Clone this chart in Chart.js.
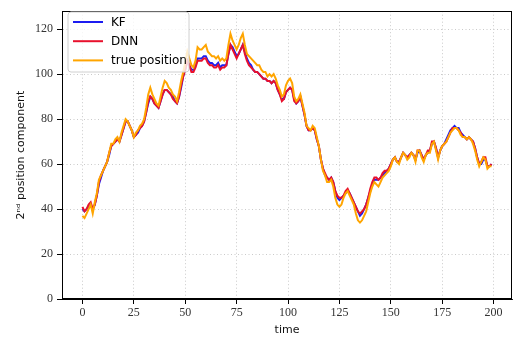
<!DOCTYPE html>
<html>
<head>
<meta charset="utf-8">
<script src="https://cdn.jsdelivr.net/npm/chart.js@4"></script>
<style>
html,body{margin:0;padding:0;background:#fff;}
#wrap{width:518px;height:342px;position:relative;}
</style>
</head>
<body>
<div id="wrap"><canvas id="c" width="518" height="342"></canvas></div>
<script>
const seriesNames = ["KF", "DNN", "true position"];
const xTicks = [0, 25, 50, 75, 100, 125, 150, 175, 200];
const yTicks = [0, 20, 40, 60, 80, 100, 120];

const truePos = [
37,36,38,40,42,38,43,47,53,55,
57,59,61,65,69,69,71,72,70,74,
77,80,79,77,75,72,74,75,77,78,
80,85,91,94,91,89,87,86,90,94,
97,96,94,93,91,90,88,92,97,101,
105,110,107,104,103,106,112,111,111,112,
113,110,109,108,108,107,108,106,107,106,
107,113,118,115,113,111,113,116,118,113,
109,108,107,106,105,104,104,102,101,101,
99,100,99,100,98,95,93,90,91,95,
97,98,96,90,88,89,91,87,83,77,
76,75,77,76,72,68,62,57,55,52,
52,53,50,45,42,41,42,45,47,48,
46,44,42,38,35,34,35,37,39,43,
47,50,52,51,50,52,54,55,56,57,
59,62,63,61,60,63,65,64,62,63,
65,64,61,66,66,63,61,64,65,65,
69,70,66,62,66,68,69,70,72,74,
75,76,76,75,73,72,72,71,72,71,
69,66,62,59,61,63,62,58,59,59];

const dnn = [
41,39,40,42,43,40,42,46,52,55,
57,59,61,65,68,69,70,71,70,73,
76,79,79,77,75,72,73,75,76,77,
79,83,88,90,89,87,86,85,88,91,
93,93,92,91,89,88,87,90,95,99,
102,106,104,101,101,103,106,106,106,107,
107,105,104,104,103,103,104,102,103,103,
104,109,113,111,109,107,109,111,113,109,
106,104,103,102,101,101,100,99,98,98,
97,97,96,97,96,93,91,88,89,92,
93,94,93,88,87,88,90,86,82,77,
75,75,76,75,71,68,62,58,56,54,
53,54,52,48,46,45,45,46,48,49,
47,45,43,41,39,38,39,40,42,45,
49,52,54,54,53,54,56,57,57,58,
60,62,63,61,61,63,65,64,63,64,
65,64,62,66,66,64,62,64,66,66,
70,70,67,63,66,68,69,70,72,74,
76,76,76,75,74,72,72,71,72,71,
70,67,63,60,61,63,63,59,59,60];

const kf = [
40,39,40,41,42,40,42,46,51,54,
57,59,61,64,68,69,70,71,70,73,
76,79,79,77,75,72,73,74,76,77,
79,83,87,90,89,87,86,85,88,91,
93,93,92,91,90,88,87,90,94,99,
102,106,104,102,102,104,107,107,107,108,
108,106,105,105,104,104,105,103,104,104,
104,109,113,112,110,108,109,111,113,110,
107,105,104,102,101,101,100,99,98,98,
97,97,96,97,96,93,91,89,89,92,
93,94,93,89,87,88,90,86,82,77,
75,75,76,75,71,68,62,58,55,54,
53,54,52,48,45,44,45,46,47,48,
47,45,43,41,39,37,38,40,42,45,
48,51,53,53,53,54,55,56,57,58,
60,62,63,61,61,63,65,64,63,64,
65,64,62,65,66,64,62,64,65,66,
69,70,67,63,66,68,69,71,73,75,
76,77,76,76,74,73,72,71,72,71,
70,67,63,60,60,62,62,59,59,60];

const colors = ["#1c1cf0", "#e8112d", "#ffa500"];
const allSeries = [kf, dnn, truePos];

const datasets = allSeries.map((arr, i) => ({
  label: seriesNames[i],
  data: arr.map((v, t) => ({x: t, y: v})),
  borderColor: colors[i],
  backgroundColor: colors[i],
  borderWidth: 2,
  pointRadius: 0,
  tension: 0,
  fill: false,
  order: 3 - i
}));

const boxPlugin = {
  id: 'boxAndLegend',
  afterDraw(chart) {
    const {ctx, chartArea: a} = chart;
    ctx.save();
    ctx.strokeStyle = '#000';
    ctx.lineWidth = 1;
    ctx.setLineDash([]);
    ctx.strokeRect(Math.round(a.left) + 0.5, Math.round(a.top) + 0.5,
                   Math.round(a.right - a.left) - 1, Math.round(a.bottom - a.top) - 1);
    // legend
    const lx = 68, ly = 12, lw = 121, lh = 60, r = 3;
    ctx.beginPath();
    ctx.moveTo(lx + r, ly);
    ctx.lineTo(lx + lw - r, ly); ctx.quadraticCurveTo(lx + lw, ly, lx + lw, ly + r);
    ctx.lineTo(lx + lw, ly + lh - r); ctx.quadraticCurveTo(lx + lw, ly + lh, lx + lw - r, ly + lh);
    ctx.lineTo(lx + r, ly + lh); ctx.quadraticCurveTo(lx, ly + lh, lx, ly + lh - r);
    ctx.lineTo(lx, ly + r); ctx.quadraticCurveTo(lx, ly, lx + r, ly);
    ctx.closePath();
    ctx.fillStyle = 'rgba(255,255,255,0.8)';
    ctx.fill();
    ctx.strokeStyle = '#d0d0d0';
    ctx.stroke();
    ctx.font = '12px "DejaVu Sans"';
    ctx.textBaseline = 'middle';
    ctx.textAlign = 'left';
    chart.data.datasets.forEach((ds, i) => {
      const y = ly + 10 + i * 19.2;
      ctx.strokeStyle = ds.borderColor;
      ctx.lineWidth = 2;
      ctx.beginPath();
      ctx.moveTo(lx + 5, y);
      ctx.lineTo(lx + 35, y);
      ctx.stroke();
      ctx.fillStyle = '#000';
      ctx.fillText(ds.label, lx + 43, y + 0.5);
    });
    ctx.restore();
  }
};

const tickFont = {family: '"Liberation Serif", "DejaVu Serif", serif', size: 12};
const titleFont = {family: '"DejaVu Sans", sans-serif', size: 11};

new Chart(document.getElementById('c'), {
  type: 'line',
  data: {datasets},
  options: {
    responsive: false,
    animation: false,
    layout: {padding: {top: 5, right: 6, left: 0, bottom: 0}},
    plugins: {legend: {display: false}, tooltip: {enabled: false}},
    scales: {
      x: {
        type: 'linear',
        min: -9.95, max: 208.95,
        afterBuildTicks(s) { s.ticks = xTicks.map(v => ({value: v})); },
        afterFit(s) { s.height = 43; },
        ticks: {font: tickFont, color: '#333', padding: 2, maxRotation: 0, autoSkip: false},
        grid: {color: '#bdbdbd', lineWidth: 0.8,
               tickColor: '#000', tickLength: 5, tickBorderDash: [], tickWidth: 1},
        border: {display: true, color: '#000', dash: [1, 2.5]},
        title: {display: true, text: 'time', font: titleFont, color: '#111', padding: {top: 0, bottom: 5}}
      },
      y: {
        type: 'linear',
        min: 0, max: 128,
        afterBuildTicks(s) { s.ticks = yTicks.map(v => ({value: v})); },
        afterFit(s) { s.width = 62; },
        ticks: {font: tickFont, color: '#333', padding: 4, autoSkip: false},
        grid: {color: '#bdbdbd', lineWidth: 0.8,
               tickColor: '#000', tickLength: 5, tickBorderDash: [], tickWidth: 1},
        border: {display: true, color: '#000', dash: [1, 2.5]},
        title: {display: true, text: '2ⁿᵈ position component', font: titleFont, color: '#111', padding: {top: 15, bottom: 0}}
      }
    }
  },
  plugins: [boxPlugin]
});
</script>
</body>
</html>
